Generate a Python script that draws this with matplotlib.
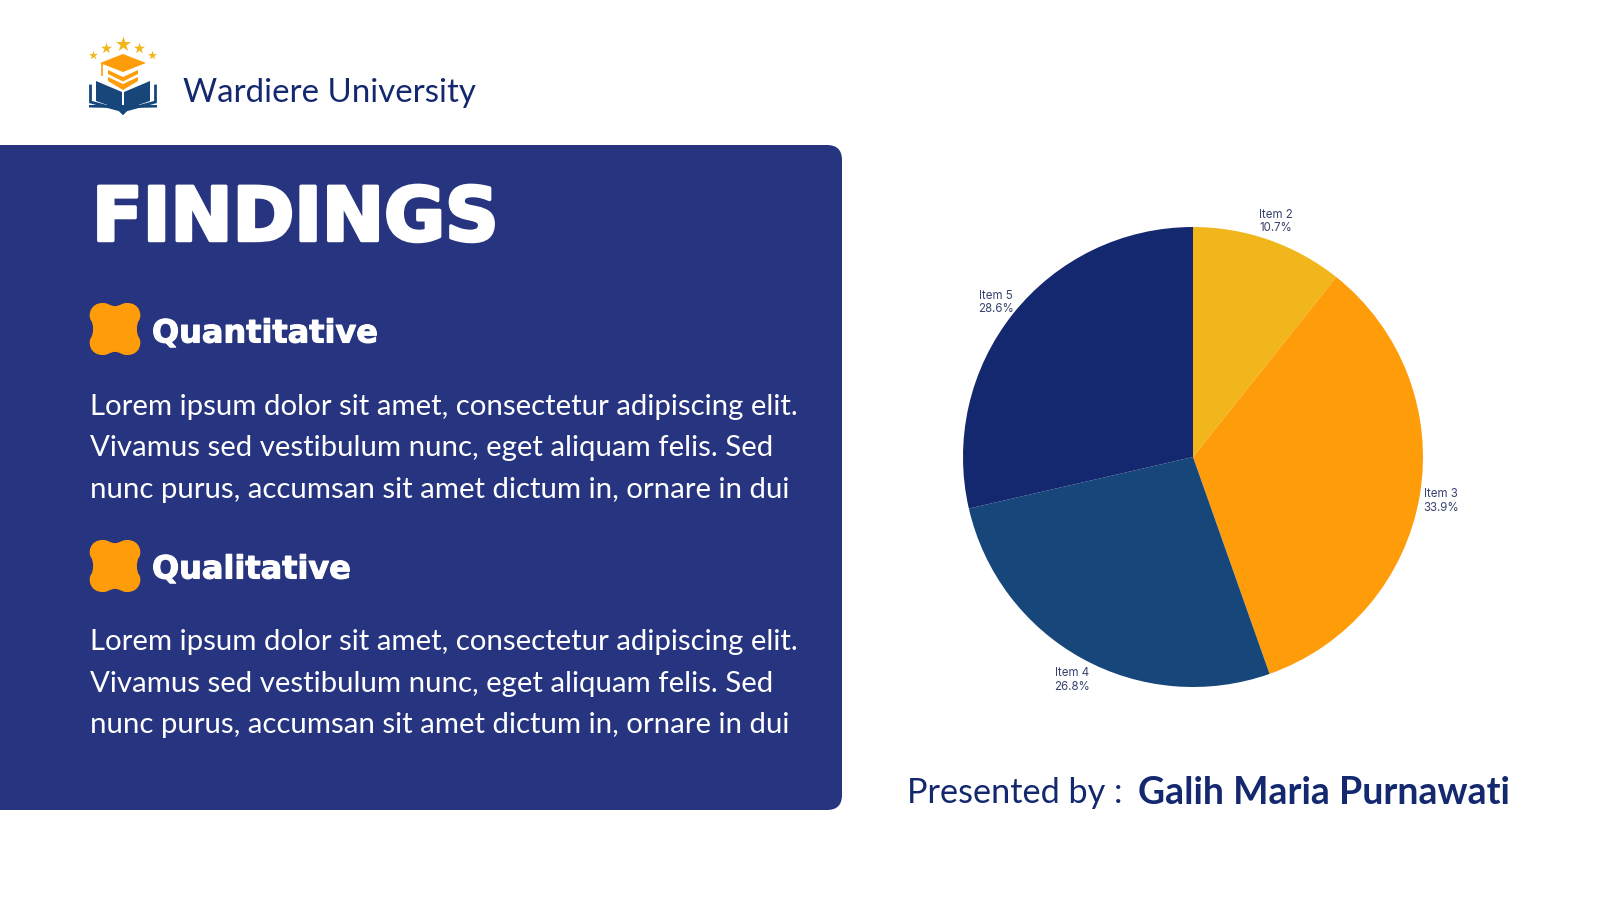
import matplotlib
matplotlib.use('Agg')
import matplotlib.pyplot as plt
import matplotlib.patches as patches
import matplotlib.patheffects as pe
from matplotlib.path import Path

items = ['Item 2', 'Item 3', 'Item 4', 'Item 5']
shares = [10.7, 33.9, 26.8, 28.6]
slice_colors = ['#F2B61D', '#FF9C0A', '#17477A', '#14286F']

brand = 'Wardiere University'
heading = 'FINDINGS'
sections = ['Quantitative', 'Qualitative']
body = ['Lorem ipsum dolor sit amet, consectetur adipiscing elit.',
        'Vivamus sed vestibulum nunc, eget aliquam felis. Sed',
        'nunc purus, accumsan sit amet dictum in, ornare in dui']
presented = 'Presented by :'
presenter = 'Galih Maria Purnawati'

NAVY = '#14286F'
PANEL = '#27347F'
ORANGE = '#FF9C0A'
STAR = '#F2B61D'
BODY_FONT = 'Lato'


def draw_blob(ax, x0, y0, w, h):
    # four lobed orange bullet
    dx, dy = w * 0.5, h * 0.5
    cx, cy = x0 + dx, y0 + dy
    pts = [(-0.5, -1.0),
           (-0.3, -1.02), (-0.2, -0.88), (0, -0.88),
           (0.2, -0.88), (0.3, -1.02), (0.5, -1.0),
           (1.0, -1.0), (1.1, -0.5), (0.95, -0.32),
           (0.85, -0.15), (0.85, 0.15), (0.95, 0.32),
           (1.1, 0.5), (1.0, 1.0), (0.5, 1.0),
           (0.3, 1.02), (0.2, 0.88), (0, 0.88),
           (-0.2, 0.88), (-0.3, 1.02), (-0.5, 1.0),
           (-1.0, 1.0), (-1.1, 0.5), (-0.95, 0.32),
           (-0.85, 0.15), (-0.85, -0.15), (-0.95, -0.32),
           (-1.1, -0.5), (-1.0, -1.0), (-0.5, -1.0)]
    verts = [(cx + px * dx, cy + py * dy) for px, py in pts]
    codes = [Path.MOVETO] + [Path.CURVE4] * (len(verts) - 1)
    ax.add_patch(patches.PathPatch(Path(verts, codes), fc=ORANGE, ec='none'))


def draw_logo(ax):
    for x, y, s in [(93, 55, 45), (106, 48, 70), (123, 44, 130), (139, 48, 70), (152, 55, 45)]:
        ax.scatter([x], [y], s=s, marker='*', color=STAR, linewidths=0, zorder=3)
    # book
    blue = '#17477A'
    ax.add_patch(patches.Polygon([(96, 81), (122, 92), (122, 110), (96, 101)], fc=blue, ec='none'))
    ax.add_patch(patches.Polygon([(150, 81), (124, 92), (124, 110), (150, 101)], fc=blue, ec='none'))
    ax.plot([90.5, 90.5, 120, 123, 126, 155.5, 155.5], [86, 102, 110, 113, 110, 102, 86], color=blue, lw=2, solid_joinstyle='miter')
    ax.add_patch(patches.Polygon([(89, 105), (157, 105), (157, 107.5), (130, 108), (123, 115), (116, 108), (89, 107.5)],
                                 fc=blue, ec='none'))
    # cap and chevrons
    ax.add_patch(patches.Polygon([(108, 70), (123, 77), (138, 70), (138, 74), (123, 81.5), (108, 74)], fc=ORANGE, ec='none'))
    ax.add_patch(patches.Polygon([(108, 77), (123, 84), (138, 77), (138, 81), (123, 90), (108, 81)], fc=ORANGE, ec='none'))
    ax.add_patch(patches.Polygon([(123, 54), (146, 63), (123, 72), (100, 63)], fc=ORANGE, ec='none'))
    ax.plot([102, 102], [64, 75], color=ORANGE, lw=1.2)


fig = plt.figure(figsize=(16, 9), dpi=100, facecolor='white')

bg = fig.add_axes([0, 0, 1, 1])
bg.set_xlim(0, 1600)
bg.set_ylim(900, 0)
bg.axis('off')

bg.add_patch(patches.FancyBboxPatch((-40, 145), 882, 665, boxstyle='round,pad=0,rounding_size=15',
                                    fc=PANEL, ec='none'))

draw_logo(bg)
bg.text(183, 93, brand, color=NAVY, fontsize=23.8, family=BODY_FONT, va='center')

bg.text(92, 220, heading, color='white', fontsize=53.5, family='DejaVu Sans', weight='bold', va='center',
        path_effects=[pe.withStroke(linewidth=2.5, foreground='white')])

for name, blob_y, head_y, line_ys in zip(sections, [303, 540], [334, 570], [[407, 448, 490], [642, 684, 725]]):
    draw_blob(bg, 90, blob_y, 50, 52)
    bg.text(152, head_y, name, color='white', fontsize=23, family='DejaVu Sans', weight='bold', va='center',
            path_effects=[pe.withStroke(linewidth=0.8, foreground='white')])
    for y, line in zip(line_ys, body):
        bg.text(90, y, line, color='white', fontsize=21.2, family=BODY_FONT, va='center')

bg.text(907, 793, presented, color=NAVY, fontsize=24.7, family=BODY_FONT, va='center')
bg.text(1138, 793, presenter, color=NAVY, fontsize=27, family=BODY_FONT, weight='bold', va='center')

# pie axes box is placed so that radius 1 comes out at 230 px around (1193, 457)
half = 230 * 1.2
pie_ax = fig.add_axes([(1193 - half) / 1600, (900 - 457 - half) / 900, 2 * half / 1600, 2 * half / 900])
labels = [f'{name}\n{share}%' for name, share in zip(items, shares)]
wedges, texts = pie_ax.pie(shares, labels=labels, colors=slice_colors, startangle=90, counterclock=False,
                           labeldistance=1.095, textprops={'fontsize': 8.3, 'family': 'Inter', 'color': '#3A4470',
                                                           'linespacing': 1.15})
for t in texts:
    t.set_ha('center')
    t.set_va('center_baseline')
pie_ax.set_xlim(-1.2, 1.2)
pie_ax.set_ylim(-1.2, 1.2)

fig.savefig('out.png', dpi=100)
